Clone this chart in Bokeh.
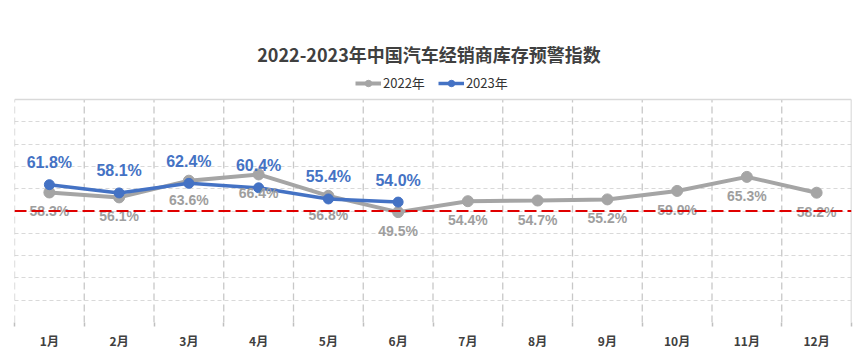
from bokeh.plotting import figure
from bokeh.models import (Range1d, FixedTicker, Grid, Span, Label, Legend, LegendItem,
                          ColumnDataSource)
from bokeh.core.properties import value
from bokeh.embed import file_html
from bokeh.resources import INLINE

# ---- data ----
months = ["1月", "2月", "3月", "4月", "5月", "6月", "7月", "8月", "9月", "10月", "11月", "12月"]
idx_2022 = [58.3, 56.1, 63.6, 66.4, 56.8, 49.5, 54.4, 54.7, 55.2, 59.0, 65.3, 58.2]
idx_2023 = [61.8, 58.1, 62.4, 60.4, 55.4, 54.0]
warning_line = 50
y_min, y_max = 0, 100
title_text = "2022-2023年中国汽车经销商库存预警指数"
series_names = ["2022年", "2023年"]

GRAY = "#A5A5A5"
LABEL_GRAY = "#9E9E9E"
BLUE = "#4472C4"
RED = "#E00000"
NUM_FONT = "'Liberation Sans', Arial, sans-serif"
CJK_FONT = "'Noto Sans CJK SC', sans-serif"

# ---- layout constants (pixels) ----
W, H = 865, 360
LEFT, RIGHT, BOTTOM = 14, 14, 38
FRAME_H = H - BOTTOM                # frame reaches the top of the canvas
PLOT_H = 223                        # pixel height of the 0..100 band
px_per_unit = PLOT_H / (y_max - y_min)
y_top = y_max + (FRAME_H - PLOT_H) / px_per_unit

n = len(months)
centers = [i + 0.5 for i in range(n)]
bounds = list(range(n + 1))

src22 = ColumnDataSource(dict(x=centers[:len(idx_2022)], y=idx_2022,
                              t=[f"{v:.1f}%" for v in idx_2022]))
src23 = ColumnDataSource(dict(x=centers[:len(idx_2023)], y=idx_2023,
                              t=[f"{v:.1f}%" for v in idx_2023]))

p = figure(width=W, height=H, output_backend="svg", toolbar_location=None,
           x_range=Range1d(0, n), y_range=Range1d(y_min, y_top),
           y_axis_location=None, title=None,
           min_border_left=LEFT, min_border_right=RIGHT, min_border_top=0,
           min_border_bottom=BOTTOM)
p.outline_line_color = None
p.background_fill_color = "white"
p.border_fill_color = "white"
p.center = []   # drop default grids; custom ones are added below

# x axis
xa = p.xaxis[0]
xa.ticker = FixedTicker(ticks=centers, minor_ticks=bounds)
xa.major_label_overrides = {c: m for c, m in zip(centers, months)}
xa.major_tick_line_color = None
xa.major_tick_out = 0
xa.minor_tick_in = 0
xa.minor_tick_out = 4
xa.minor_tick_line_color = "#BFBFBF"
xa.minor_tick_line_width = 1.5
xa.axis_line_color = None
xa.major_label_standoff = 5
xa.major_label_text_font = CJK_FONT
xa.major_label_text_font_style = "bold"
xa.major_label_text_font_size = "12px"
xa.major_label_text_color = "#404040"

# grids
p.segment(x0=bounds[:-1], y0=y_min, x1=bounds[:-1], y1=y_max,
          line_color="#C8C8C8", line_dash="7 4", line_width=1.3)
p.segment(x0=[n], y0=y_min, x1=[n], y1=y_max, line_color="#C8C8C8", line_width=1.5)
yg = Grid(dimension=1, ticker=FixedTicker(ticks=list(range(y_min, y_max, 10))),
          grid_line_color="#D9D9D9", grid_line_dash="4 3", grid_line_width=1)
p.add_layout(yg)
p.add_layout(Span(location=y_max, dimension="width", line_color="#D9D9D9", line_width=1.5))

# warning line
p.add_layout(Span(location=warning_line, dimension="width", line_color=RED,
                  line_width=2, line_dash="12 5"))

# series
l22 = p.line("x", "y", source=src22, line_color=GRAY, line_width=4)
s22 = p.scatter("x", "y", source=src22, size=11, fill_color=GRAY, line_color=GRAY)
l23 = p.line("x", "y", source=src23, line_color=BLUE, line_width=3.5)
s23 = p.scatter("x", "y", source=src23, size=10, fill_color=BLUE, line_color=BLUE)

p.text("x", "y", text="t", source=src22, y_offset=19, text_align="center",
       text_baseline="middle", text_font=value(NUM_FONT), text_font_style="bold",
       text_font_size="14px", text_color=LABEL_GRAY)
p.text("x", "y", text="t", source=src23, y_offset=-22, text_align="center",
       text_baseline="middle", text_font=value(NUM_FONT), text_font_style="bold",
       text_font_size="16px", text_color=BLUE)

# title
p.add_layout(Label(x=W / 2 - LEFT - 4, y=FRAME_H - 53, x_units="screen", y_units="screen",
                   text=title_text, text_align="center", text_baseline="middle",
                   text_font=CJK_FONT, text_font_style="bold", text_font_size="18px",
                   text_color="#404040"))

# legend
legend = Legend(items=[LegendItem(label=series_names[0], renderers=[l22, s22]),
                       LegendItem(label=series_names[1], renderers=[l23, s23])],
                orientation="horizontal", location=(355 - LEFT, FRAME_H - 92),
                padding=0, margin=0, spacing=13, glyph_width=26, glyph_height=16,
                label_standoff=2, label_text_font=CJK_FONT, label_text_font_size="13px",
                label_text_color="#333333", background_fill_alpha=0,
                border_line_color=None)
p.add_layout(legend)

open("out.html", "w").write(file_html(p, INLINE))
